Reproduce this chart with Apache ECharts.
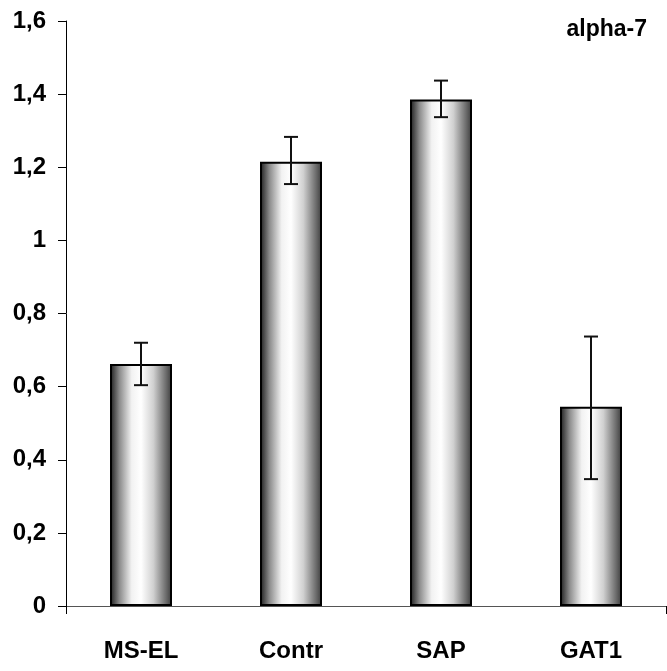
<!DOCTYPE html>
<html><head><meta charset="utf-8">
<script src="https://cdn.jsdelivr.net/npm/echarts@6/dist/echarts.min.js"></script>
<style>html,body{margin:0;padding:0;background:#fff}#c{width:667px;height:671px}</style>
</head><body><div id="c"></div>
<script>
const categories = ['MS-EL', 'Contr', 'SAP', 'GAT1'];
const values = [0.662, 1.215, 1.385, 0.545];
const errLow = [0.604, 1.154, 1.337, 0.347];
const errHigh = [0.720, 1.283, 1.437, 0.737];
const yTicks = [0, 0.2, 0.4, 0.6, 0.8, 1, 1.2, 1.4, 1.6];
const title = 'alpha-7';

const font = '"Liberation Sans", Arial, sans-serif';
const chart = echarts.init(document.getElementById('c'), null, {renderer: 'canvas'});
const grad = new echarts.graphic.LinearGradient(0, 0, 1, 0, [
  {offset: 0, color: '#1a1a1a'},
  {offset: 0.15, color: '#8a8a8a'},
  {offset: 0.35, color: '#f2f2f2'},
  {offset: 0.5, color: '#ffffff'},
  {offset: 0.7, color: '#d0d0d0'},
  {offset: 0.9, color: '#6e6e6e'},
  {offset: 1, color: '#3a3a3a'}
]);
chart.setOption({
  animation: false,
  title: {text: title, right: 15, top: 13, textStyle: {fontFamily: font, fontWeight: 'bold', fontSize: 23, color: '#000'}},
  grid: {left: 66, right: 1, top: 21, bottom: 65, containLabel: false},
  xAxis: {
    type: 'category', data: categories,
    axisLine: {lineStyle: {color: '#555', width: 1}},
    axisTick: {show: true, length: 8, lineStyle: {color: '#000'}, interval: function (i) { return i === 0; }},
    axisLabel: {margin: 33, fontFamily: font, fontWeight: 'bold', fontSize: 24, color: '#000'}
  },
  yAxis: {
    type: 'value', min: 0, max: 1.6, interval: 0.2,
    axisLine: {show: true, lineStyle: {color: '#000', width: 1}},
    axisTick: {show: true, length: 8, lineStyle: {color: '#000'}},
    splitLine: {show: false},
    axisLabel: {margin: 20, fontFamily: font, fontWeight: 'bold', fontSize: 24, color: '#000',
      formatter: function (v) { return yTicks.indexOf(Math.round(v*10)/10) >= 0 ? String(Math.round(v*10)/10).replace('.', ',') : ''; }}
  },
  series: [{
    type: 'bar', data: values, barWidth: 62,
    itemStyle: {color: grad, borderColor: '#000', borderWidth: 2}
  }, {
    type: 'custom',
    data: categories.map((c, i) => [i, errLow[i], errHigh[i]]),
    renderItem: function (params, api) {
      const lo = api.coord([api.value(0), api.value(1)]);
      const hi = api.coord([api.value(0), api.value(2)]);
      const hw = 7;
      const st = {stroke: '#111', lineWidth: 2};
      return {type: 'group', children: [
        {type: 'line', shape: {x1: hi[0], y1: hi[1], x2: lo[0], y2: lo[1]}, style: st},
        {type: 'line', shape: {x1: hi[0]-hw, y1: hi[1], x2: hi[0]+hw, y2: hi[1]}, style: st},
        {type: 'line', shape: {x1: lo[0]-hw, y1: lo[1], x2: lo[0]+hw, y2: lo[1]}, style: st}
      ]};
    },
    z: 10
  }]
});
</script></body></html>
